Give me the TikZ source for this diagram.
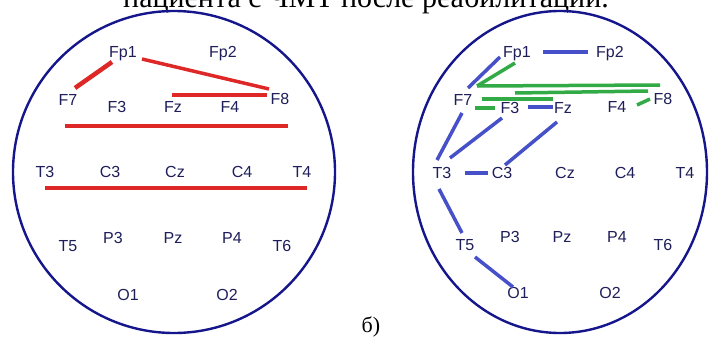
\documentclass[tikz,border=0pt]{standalone}
\usepackage{fontspec}
\setmainfont{Liberation Serif}
\newfontfamily\eegfont{Liberation Sans}
\usetikzlibrary{calc}

\definecolor{headblue}{RGB}{22,22,140}
\definecolor{lblblue}{RGB}{30,30,90}
\definecolor{cohred}{RGB}{222,40,40}
\definecolor{cohblue}{RGB}{70,80,200}
\definecolor{cohgreen}{RGB}{50,170,70}

\begin{document}
\begin{tikzpicture}[x=1pt,y=-1pt,
  elec/.style={font=\eegfont\fontsize{16}{16}\selectfont,text=lblblue,inner sep=0pt,text height=11pt,text depth=0pt},
  head/.style={draw=headblue,line width=2.4pt},
  redlink/.style={draw=cohred,line width=3.5pt},
  bluelink/.style={draw=cohblue,line width=3.5pt},
  greenlink/.style={draw=cohgreen,line width=3.5pt}]
\useasboundingbox (0,0) rectangle (709,340);
\clip (0,0) rectangle (709,340);
\fill[white] (0,0) rectangle (709,340);
\node[font=\fontsize{30}{30}\selectfont,anchor=base west,inner sep=0pt] (caption) at (123,7.5) {пациента с ЧМТ после реабилитации.};
\draw[head] (174,172) ellipse [x radius=161,y radius=161];
\draw[head] (560,172) ellipse [x radius=147,y radius=161];
\foreach \n/\x/\y in {Fp1/123/52,Fp2/223/52,F7/68/100,F3/117/107,Fz/173/107,F4/230/107,F8/280/99,
  T3/45/172,C3/110/172,Cz/175/172,C4/242/172,T4/302/172,T5/68/246,P3/113/238,Pz/173/238,P4/232/238,T6/282/246,O1/128/295,O2/227/295}
  \node[elec] (l\n) at (\x,\y) {\n};
\foreach \n/\x/\y in {Fp1/517/52,Fp2/610/52,F7/463/100,F3/510/108,Fz/563/108,F4/617/107,F8/663/99,
  T3/442/173,C3/502/173,Cz/565/173,C4/625/173,T4/685/173,T5/465/245,P3/510/237,Pz/562/237,P4/617/237,T6/663/245,O1/518/293,O2/610/293}
  \node[elec] (r\n) at (\x,\y) {\n};
\draw[redlink,line width=4.5pt] ($(lFp1)+(-11,10)$) -- ($(lF7)+(7,-12)$);
\draw[redlink] ($(lFp1)+(19,7)$) -- ($(lF8)+(-11,-10)$);
\draw[redlink] ($(lFz)+(-1,-12)$) -- ($(lF8)+(-13,-4)$);
\draw[redlink] ($(lF7)+(-3,26)$) -- ($(lF8)+(8,27)$);
\draw[redlink] ($(lT3)+(0,16)$) -- ($(lT4)+(5,16)$);
\draw[bluelink] ($(rFp1)+(26,0)$) -- ($(rFp2)+(-22,0)$);
\draw[bluelink] ($(rFp1)+(-17,5)$) -- ($(rF7)+(5,-12)$);
\draw[bluelink] ($(rF7)+(-1,13)$) -- ($(rT3)+(-5,-13)$);
\draw[bluelink] ($(rF3)+(-8,10)$) -- ($(rT3)+(8,-15)$);
\draw[bluelink] ($(rFz)+(-6,14)$) -- ($(rC3)+(3,-8)$);
\draw[bluelink] ($(rF3)+(18,-1)$) -- ($(rFz)+(-10,-1)$);
\draw[bluelink] ($(rT3)+(23,0)$) -- ($(rC3)+(-14,0)$);
\draw[bluelink] ($(rT3)+(-3,16)$) -- ($(rT5)+(-3,-12)$);
\draw[bluelink] ($(rT5)+(10,12)$) -- ($(rO1)+(-5,-6)$);
\draw[greenlink] ($(rFp1)+(-2,11)$) -- ($(rF7)+(14,-14)$);
\draw[greenlink] ($(rF7)+(14,-14)$) -- ($(rF8)+(-3,-14)$);
\draw[greenlink] ($(rF3)+(5,-15)$) -- ($(rF8)+(-15,-8)$);
\draw[greenlink] ($(rF7)+(19,-1)$) -- ($(rFz)+(-10,-9)$);
\draw[greenlink] ($(rF7)+(12,8)$) -- ($(rF3)+(-15,0)$);
\draw[greenlink] ($(rF4)+(20,-2)$) -- ($(rF8)+(-13,0)$);
\node[font=\fontsize{22}{22}\selectfont,inner sep=0pt] (part) at (371,327) {б)};
\end{tikzpicture}
\end{document}
